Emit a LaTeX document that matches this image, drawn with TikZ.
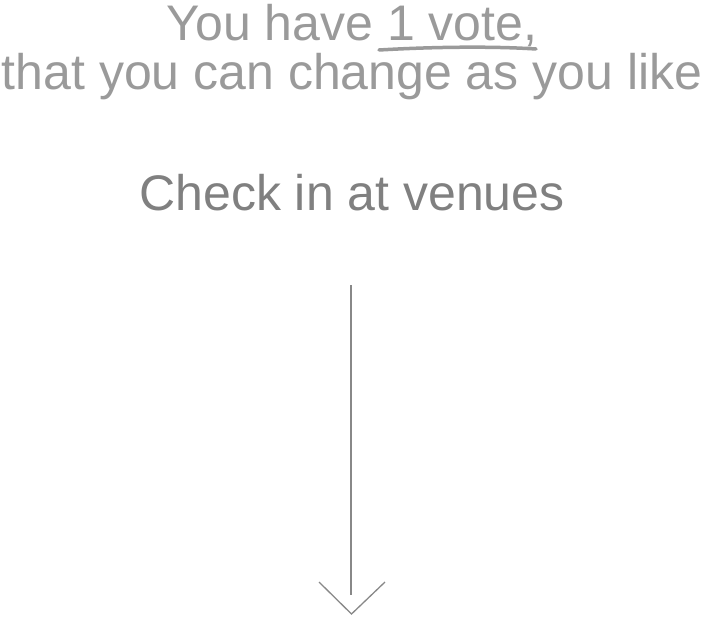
\documentclass[tikz,border=0pt]{standalone}
\usepackage{fontspec}
\setmainfont{Liberation Sans}
\usetikzlibrary{calc}
\definecolor{lightink}{HTML}{9A9A9A}
\definecolor{midink}{HTML}{808080}
\definecolor{arrowink}{HTML}{888888}
\tikzset{
	bigtext/.style={font=\fontsize{50}{60}\selectfont, inner sep=0pt, anchor=base},
}
\begin{document}
\begin{tikzpicture}[x=1pt, y=-1pt]
			%%%%% START %%%%%
			\useasboundingbox (0, 0) rectangle (704, 616);
			
			\node[bigtext, color=lightink] (voteline) at (352, 40) {You have 1 vote,};
			\node[bigtext, color=lightink] (changeline) at (352, 89) {that you can change as you like};
			\draw[line width=3.5pt, color=lightink, line cap=round] (379, 50) .. controls (430, 47) and (490, 46) .. (536, 49);
			
			\node[bigtext, color=midink] (checkin) at (352, 210) {Check in at venues};
			
			\coordinate (shafttop) at (351, 285);
			\coordinate (shaftend) at (351, 595);
			\coordinate (headleft) at (319, 582);
			\coordinate (headtip) at (351.5, 614);
			\coordinate (headright) at (385, 582);
			\draw[line width=1.3pt, color=arrowink] (shafttop) -- (shaftend);
			\draw[line width=1.3pt, color=arrowink] (headleft) -- (headtip) -- (headright);
			
			%%%%% END %%%%%
\end{tikzpicture}
\end{document}
